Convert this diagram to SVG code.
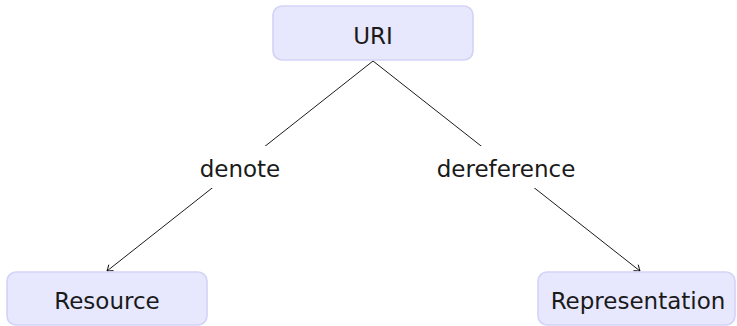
<svg xmlns="http://www.w3.org/2000/svg" width="737" height="326" viewBox="0 0 737 326">
  <style>
    .box { fill: #e7e7fd; stroke: #d3d3f8; stroke-width: 1.6; }
    .lbl { font-family: "DejaVu Sans", "Liberation Sans", sans-serif; font-size: 23px; fill: #1a1a1a; text-anchor: middle; }
    .edge { stroke: #000; stroke-width: 0.9; fill: none; }
    .mask { fill: #fff; }
  </style>
  <defs>
    <marker id="to" viewBox="-6 -5 8 10" refX="0" refY="0" markerWidth="8" markerHeight="10" markerUnits="userSpaceOnUse" orient="auto">
      <path d="M -5 -3.6 Q -1.5 -1 0 0 Q -1.5 1 -5 3.6" fill="none" stroke="#000" stroke-width="0.9" stroke-linecap="round"/>
    </marker>
  </defs>

  <g id="connectors">
    <line class="edge" x1="373" y1="61" x2="107" y2="271" marker-end="url(#to)"/>
    <line class="edge" x1="373" y1="61" x2="640" y2="271" marker-end="url(#to)"/>
    <g id="label-denote">
      <rect class="mask" x="192" y="146" width="96" height="42"/>
      <text class="lbl" x="240" y="177">denote</text>
    </g>
    <g id="label-dereference">
      <rect class="mask" x="430" y="146" width="152" height="42"/>
      <text class="lbl" x="506" y="177">dereference</text>
    </g>
  </g>

  <g id="uri">
    <rect class="box" x="273" y="6" width="200" height="54" rx="9"/>
    <text class="lbl" x="373" y="44">URI</text>
  </g>

  <g id="resource">
    <rect class="box" x="7" y="272" width="200" height="53" rx="9"/>
    <text class="lbl" x="107" y="309">Resource</text>
  </g>

  <g id="representation">
    <rect class="box" x="538" y="272" width="197" height="53" rx="9"/>
    <text class="lbl" x="638" y="309">Representation</text>
  </g>
</svg>
